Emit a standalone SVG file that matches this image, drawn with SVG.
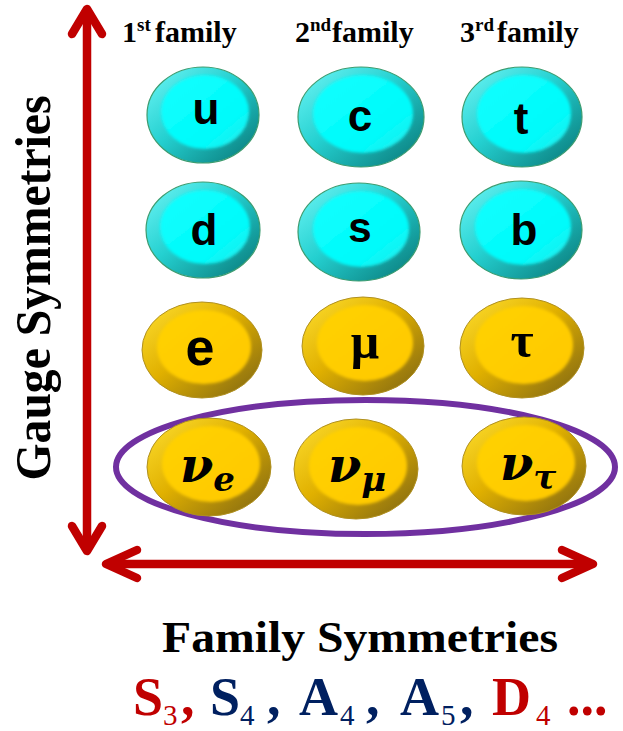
<svg xmlns="http://www.w3.org/2000/svg" width="623" height="731" viewBox="0 0 623 731">
<defs>
  <linearGradient id="gCyan" x1="0" y1="0" x2="1" y2="1">
    <stop offset="0" stop-color="#6ff7f7"/>
    <stop offset="0.45" stop-color="#24d0d0"/>
    <stop offset="1" stop-color="#077474"/>
  </linearGradient>
  <linearGradient id="gCyanIn" x1="0" y1="0" x2="1" y2="1">
    <stop offset="0" stop-color="#10ffff"/>
    <stop offset="0.7" stop-color="#00fbfb"/>
    <stop offset="1" stop-color="#30e8e8"/>
  </linearGradient>
  <linearGradient id="gGold" x1="0" y1="0" x2="1" y2="1">
    <stop offset="0" stop-color="#ffe030"/>
    <stop offset="0.45" stop-color="#e0b000"/>
    <stop offset="1" stop-color="#7a6214"/>
  </linearGradient>
  <linearGradient id="gGoldIn" x1="0" y1="0" x2="1" y2="1">
    <stop offset="0" stop-color="#ffd200"/>
    <stop offset="1" stop-color="#ffc800"/>
  </linearGradient>
  <filter id="soft" x="-20%" y="-20%" width="140%" height="140%">
    <feGaussianBlur stdDeviation="1.6"/>
  </filter>
</defs>
<style>
  .cyan .outer { fill: url(#gCyan); stroke: #3c9c70; stroke-width: 1.2; }
  .cyan .inner { fill: url(#gCyanIn); filter: url(#soft); }
  .gold .outer { fill: url(#gGold); stroke: #b09020; stroke-width: 1; }
  .gold .inner { fill: url(#gGoldIn); filter: url(#soft); }
  .lbl { font-family: "Liberation Sans", Arial, sans-serif; font-weight: bold; fill: #000; text-anchor: middle; }
  .grk { font-family: "Liberation Serif", "Times New Roman", serif; font-weight: bold; fill: #000; text-anchor: middle; }
  .nu { font-family: "DejaVu Serif", "Liberation Serif", serif; font-weight: bold; font-style: italic; fill: #000; }
  .hdr { font-family: "Liberation Serif", "Times New Roman", serif; font-weight: bold; fill: #000; }
  .arrow { fill: none; stroke: #c00000; stroke-width: 8.5; stroke-linecap: round; stroke-linejoin: round; }
  .big { font-family: "Liberation Serif", "Times New Roman", serif; font-weight: bold; font-size: 54px; }
  .sub { font-family: "Liberation Serif", "Times New Roman", serif; font-weight: normal; font-size: 29px; }
  .red { fill: #c00000; }
  .blue { fill: #002060; }
</style>

<!-- Headers -->
<g id="headers">
  <text class="hdr" y="42" font-size="30"><tspan x="122">1</tspan><tspan x="137" y="31" font-size="19">st</tspan><tspan x="155" y="42">family</tspan></text>
  <text class="hdr" y="42" font-size="30"><tspan x="295">2</tspan><tspan x="310" y="31" font-size="19">nd</tspan><tspan x="332" y="42">family</tspan></text>
  <text class="hdr" y="42" font-size="30"><tspan x="460">3</tspan><tspan x="475" y="31" font-size="19">rd</tspan><tspan x="497" y="42">family</tspan></text>
</g>

<!-- Axis label -->
<text id="gauge-label" class="hdr" font-size="50" text-anchor="middle" textLength="385" lengthAdjust="spacingAndGlyphs" transform="translate(50,288) rotate(-90)">Gauge Symmetries</text>

<!-- Connectors (axis arrows and grouping ellipse) -->
<g id="connectors">
  <line class="arrow" x1="87" y1="12" x2="87" y2="548"/>
  <polyline class="arrow" points="72,34 87,9 102,34"/>
  <polyline class="arrow" points="72,526 87,551 102,526"/>
  <line class="arrow" x1="108" y1="564" x2="590" y2="564"/>
  <polyline class="arrow" points="137,550 106,564 137,578"/>
  <polyline class="arrow" points="562,550 593,564 562,578"/>
  <ellipse id="neutrino-group" cx="365.5" cy="467" rx="249.5" ry="67" fill="none" stroke="#7030a0" stroke-width="6"/>
</g>

<!-- Quarks -->
<g id="node-u" class="cyan">
  <ellipse class="outer" cx="203" cy="115" rx="56" ry="48"/>
  <ellipse class="inner" cx="205" cy="112" rx="44" ry="37"/>
  <text class="lbl" x="206" y="124" font-size="44">u</text>
</g>
<g id="node-c" class="cyan">
  <ellipse class="outer" cx="361" cy="117" rx="63" ry="50"/>
  <ellipse class="inner" cx="363" cy="114" rx="50" ry="39"/>
  <text class="lbl" x="360" y="131" font-size="44">c</text>
</g>
<g id="node-t" class="cyan">
  <ellipse class="outer" cx="522" cy="117" rx="60" ry="50"/>
  <ellipse class="inner" cx="524" cy="114" rx="47" ry="39"/>
  <text class="lbl" x="521" y="134" font-size="44">t</text>
</g>
<g id="node-d" class="cyan">
  <ellipse class="outer" cx="203" cy="230" rx="57" ry="48"/>
  <ellipse class="inner" cx="205" cy="227" rx="45" ry="37"/>
  <text class="lbl" x="204" y="245" font-size="44">d</text>
</g>
<g id="node-s" class="cyan">
  <ellipse class="outer" cx="359" cy="232" rx="61" ry="49"/>
  <ellipse class="inner" cx="361" cy="229" rx="48" ry="38"/>
  <text class="lbl" x="360" y="242" font-size="42">s</text>
</g>
<g id="node-b" class="cyan">
  <ellipse class="outer" cx="521" cy="230" rx="61" ry="49"/>
  <ellipse class="inner" cx="523" cy="227" rx="48" ry="38"/>
  <text class="lbl" x="524" y="245" font-size="44">b</text>
</g>

<!-- Charged leptons -->
<g id="node-e" class="gold">
  <ellipse class="outer" cx="202" cy="350" rx="60" ry="48"/>
  <ellipse class="inner" cx="204" cy="347" rx="47" ry="37"/>
  <text class="lbl" x="200" y="365" font-size="52">e</text>
</g>
<g id="node-mu" class="gold">
  <ellipse class="outer" cx="363" cy="346" rx="61" ry="49"/>
  <ellipse class="inner" cx="365" cy="343" rx="48" ry="38"/>
  <text class="grk" x="365" y="358" font-size="50">μ</text>
</g>
<g id="node-tau" class="gold">
  <ellipse class="outer" cx="522" cy="348" rx="62" ry="50"/>
  <ellipse class="inner" cx="524" cy="345" rx="49" ry="39"/>
  <text class="grk" x="522" y="357" font-size="50">τ</text>
</g>

<!-- Neutrinos -->
<g id="node-nue" class="gold">
  <ellipse class="outer" cx="209" cy="467" rx="62" ry="49"/>
  <ellipse class="inner" cx="211" cy="464" rx="49" ry="38"/>
  <text class="nu" x="180" y="482" font-size="48">ν<tspan font-size="34" dy="9">e</tspan></text>
</g>
<g id="node-numu" class="gold">
  <ellipse class="outer" cx="356" cy="469" rx="62" ry="50"/>
  <ellipse class="inner" cx="358" cy="466" rx="49" ry="39"/>
  <text class="nu" x="328" y="482" font-size="48">ν<tspan font-size="34" dy="9">μ</tspan></text>
</g>
<g id="node-nutau" class="gold">
  <ellipse class="outer" cx="524" cy="466" rx="62" ry="49"/>
  <ellipse class="inner" cx="526" cy="463" rx="49" ry="38"/>
  <text class="nu" x="500" y="480" font-size="48">ν<tspan font-size="34" dy="9">τ</tspan></text>
</g>

<!-- Bottom labels -->
<text id="family-label" class="hdr" x="162" y="652" font-size="44" textLength="396" lengthAdjust="spacingAndGlyphs">Family Symmetries</text>
<g id="groups">
  <text class="big red" x="133" y="715">S</text>
  <text class="sub red" x="163" y="725">3</text>
  <text class="big red" x="181" y="715">,</text>
  <text class="big blue" x="210" y="715">S</text>
  <text class="sub blue" x="240" y="725">4</text>
  <text class="big blue" x="267" y="715">,</text>
  <text class="big blue" x="299" y="715">A</text>
  <text class="sub blue" x="340" y="725">4</text>
  <text class="big blue" x="366" y="715">,</text>
  <text class="big blue" x="400" y="715">A</text>
  <text class="sub blue" x="441" y="725">5</text>
  <text class="big blue" x="460" y="715">,</text>
  <text class="big red" x="492" y="715">D</text>
  <text class="sub red" x="536" y="725">4</text>
  <text class="big red" x="567" y="715">...</text>
</g>
</svg>
